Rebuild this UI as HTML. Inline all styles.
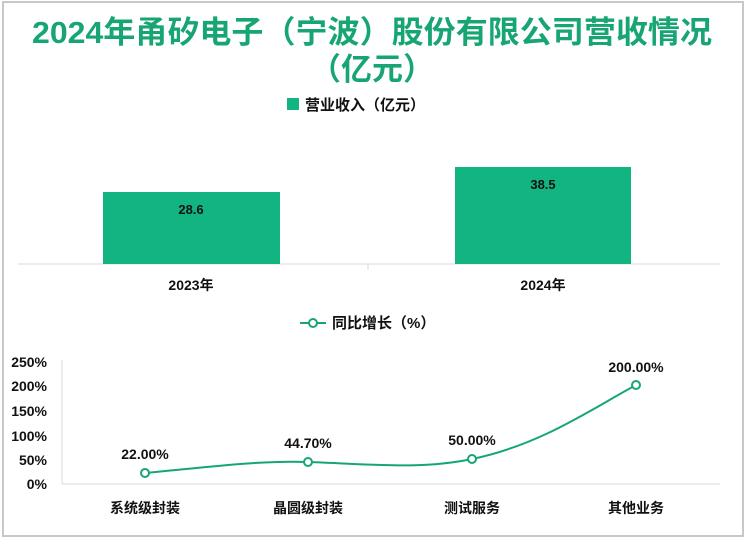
<!DOCTYPE html><html><head><meta charset="utf-8"><style>
body{margin:0;background:#fff}
svg text{font-family:"Liberation Sans","Noto Sans CJK SC",sans-serif}
</style></head><body>
<svg width="746" height="542" xmlns="http://www.w3.org/2000/svg">
<rect x="3" y="2" width="740" height="534" fill="#fff" stroke="#c8c8c8" stroke-width="2"/>
<text x="372" y="43" text-anchor="middle" font-size="31" font-weight="bold" fill="#17a673" textLength="680" lengthAdjust="spacingAndGlyphs">2024年甬矽电子（宁波）股份有限公司营收情况</text>
<text x="372" y="80" text-anchor="middle" font-size="31" font-weight="bold" fill="#17a673">（亿元）</text>
<rect x="287" y="98" width="12" height="12" fill="#12b581"/>
<text x="305" y="110" font-size="15" font-weight="bold" fill="#111">营业收入（亿元）</text>
<line x1="18" y1="264" x2="720" y2="264" stroke="#d9d9d9"/>
<line x1="368" y1="264" x2="368" y2="270" stroke="#d9d9d9"/>
<rect x="103" y="192" width="177" height="72" fill="#12b581"/>
<rect x="455" y="167" width="176" height="97" fill="#12b581"/>
<text x="191" y="214" text-anchor="middle" font-size="13" font-weight="bold" fill="#111">28.6</text>
<text x="543" y="189" text-anchor="middle" font-size="13" font-weight="bold" fill="#111">38.5</text>
<text x="191" y="290" text-anchor="middle" font-size="14" font-weight="bold" fill="#111">2023年</text>
<text x="543" y="290" text-anchor="middle" font-size="14" font-weight="bold" fill="#111">2024年</text>
<line x1="300" y1="323" x2="326" y2="323" stroke="#17a673" stroke-width="2"/>
<circle cx="313" cy="323" r="4" fill="#fff" stroke="#17a673" stroke-width="2"/>
<text x="332" y="328" font-size="15" font-weight="bold" fill="#111">同比增长（%）</text>
<line x1="62" y1="360" x2="62" y2="484" stroke="#d9d9d9"/>
<line x1="62" y1="484" x2="720" y2="484" stroke="#d9d9d9"/>
<g font-size="14" font-weight="bold" fill="#111" text-anchor="end">
<text x="47" y="367">250%</text><text x="47" y="391">200%</text><text x="47" y="416">150%</text><text x="47" y="441">100%</text><text x="47" y="465">50%</text><text x="47" y="489">0%</text></g>
<path d="M145 473 C200 468,260 460,308 462 C370 464,420 470,472 459 C540 445,590 410,636 385" fill="none" stroke="#17a673" stroke-width="2"/>
<g fill="#fff" stroke="#17a673" stroke-width="2">
<circle cx="145" cy="473" r="4"/><circle cx="308" cy="462" r="4"/><circle cx="472" cy="459" r="4"/><circle cx="636" cy="385" r="4"/></g>
<g font-size="14" font-weight="bold" fill="#111" text-anchor="middle">
<text x="145" y="459">22.00%</text><text x="308" y="448">44.70%</text><text x="472" y="445">50.00%</text><text x="636" y="372">200.00%</text>
<text x="145" y="513">系统级封装</text><text x="308" y="513">晶圆级封装</text><text x="472" y="513">测试服务</text><text x="636" y="513">其他业务</text></g>
</svg></body></html>
